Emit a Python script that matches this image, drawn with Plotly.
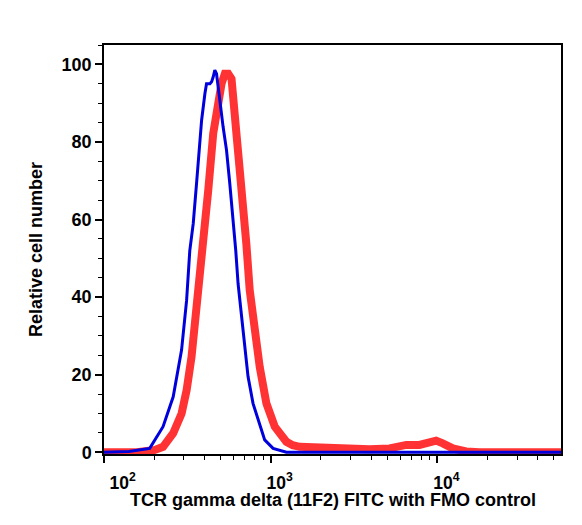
import plotly.graph_objects as go

# Fluorescence intensity (FITC) and relative cell number
fmo_x = [60, 100, 141, 166, 188, 226, 260, 292, 313, 327, 343, 359, 376, 385, 403, 412, 432, 442, 452, 462,
         473, 483, 495, 518, 543, 568, 594, 617, 637, 682, 731, 783, 839, 920, 1033, 1242, 60000]
fmo_y = [0, 0, 0.2, 0.6, 1.0, 6.6, 14.3, 26.4, 39.2, 52, 59, 69.3, 81.3, 85.6, 92.5, 95, 95, 95.5, 96.8, 98.5,
         97.6, 95, 90.8, 83.9, 77.9, 69.3, 60.7, 52, 43.5, 30.7, 19.5, 12.6, 8.3, 3.2, 1.0, 0, 0]

stain_x = [60, 100, 158, 202, 226, 260, 292, 313, 335, 359, 385, 403, 422, 452, 483, 507, 531, 556, 582, 608,
           628, 652, 682, 714, 748, 802, 859, 942, 1057, 1242, 1355, 1493, 2153, 3917, 5164, 6501, 7798,
           8551, 9817, 10765, 12359, 14859, 17783, 60000]
stain_y = [0, 0, 0, 0.6, 1.4, 4.9, 10, 16, 24.6, 37.5, 49.5, 57.3, 67.6, 82.2, 90.8, 95, 97.6, 97.6, 96.3, 89,
           80.4, 72.7, 65, 53.8, 41.8, 30.7, 22, 12.6, 6.6, 2.7, 1.8, 1.4, 1.0, 0.8, 1.0, 1.9, 1.9,
           2.3, 3.0, 2.3, 1.0, 0.2, 0, 0]

x_tickvals = [100, 1000, 10000]
x_ticktext = ["&nbsp;&nbsp;&nbsp;&nbsp;10<sup>2</sup>", "10<sup>3</sup>", "10<sup>4</sup>"]
x_minor = [m * 10 ** e for e in (2, 3, 4) for m in range(2, 10)]
y_tickvals = [0, 20, 40, 60, 80, 100]
x_title = "TCR gamma delta (11F2) FITC with FMO control"
y_title = "Relative cell number"

font = dict(family="Liberation Sans, Arial, sans-serif", color="black", weight="bold")

fig = go.Figure()
fig.add_trace(go.Scatter(x=stain_x, y=stain_y, mode="lines",
                         line=dict(color="rgb(255,51,51)", width=8), showlegend=False))
fig.add_trace(go.Scatter(x=fmo_x, y=fmo_y, mode="lines",
                         line=dict(color="rgb(0,0,221)", width=3), showlegend=False))

fig.update_layout(
    width=582, height=525,
    margin=dict(l=104, r=20.5, t=45, b=71),
    plot_bgcolor="white", paper_bgcolor="white",
    font=font,
    xaxis=dict(
        type="log", range=[2.0, 4.741],
        tickvals=x_tickvals, ticktext=x_ticktext,
        ticks="outside", ticklen=7, tickwidth=1.5, tickcolor="black",
        minor=dict(tickvals=x_minor, ticks="outside", ticklen=4, tickwidth=1, tickcolor="black"),
        showline=True, linecolor="black", linewidth=1.5, mirror=True,
        showgrid=False, zeroline=False,
        tickfont=dict(size=17.5, **font), ticklabelshift=9, ticklabelstandoff=5,
    ),
    yaxis=dict(
        range=[-0.45, 105],
        tickvals=y_tickvals,
        ticks="outside", ticklen=7, tickwidth=1.5, tickcolor="black",
        minor=dict(dtick=5, tick0=0, ticks="outside", ticklen=4, tickwidth=1, tickcolor="black"),
        showline=True, linecolor="black", linewidth=1.5, mirror=True,
        showgrid=False, zeroline=False,
        tickfont=dict(size=18, **font),
        title=dict(text=y_title, font=dict(size=18, **font), standoff=14),
    ),
    annotations=[dict(text=x_title, xref="paper", yref="paper", x=0.5, y=-0.112,
                      xanchor="center", yanchor="middle", showarrow=False,
                      font=dict(size=18, **font))],
)

fig.write_html("out.html")
